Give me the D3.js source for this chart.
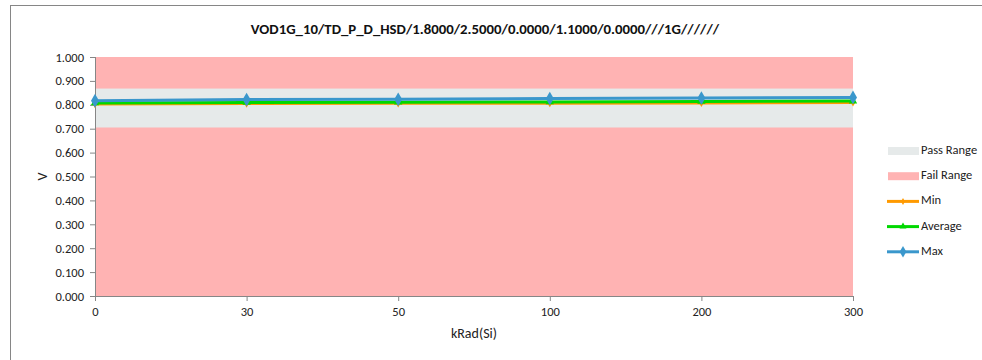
<!DOCTYPE html>
<html>
<head>
<meta charset="utf-8">
<script src="https://cdn.jsdelivr.net/npm/d3@7"></script>
<style>
  body { margin: 0; background: #fff; }
  svg { display: block; font-family: Carlito, Calibri, Lato, "Open Sans", sans-serif; }
</style>
</head>
<body>
<svg id="chart" width="982" height="360"></svg>
<script>
const title = "VOD1G_10/TD_P_D_HSD/1.8000/2.5000/0.0000/1.1000/0.0000///1G//////";
const categories = ["0", "30", "50", "100", "200", "300"];
const minValues = [0.803, 0.805, 0.806, 0.807, 0.808, 0.810];
const avgValues = [0.808, 0.810, 0.811, 0.812, 0.814, 0.816];
const maxValues = [0.817, 0.822, 0.823, 0.826, 0.828, 0.831];
const passRange = [0.705, 0.868];
const failRange = [0.0, 1.0];
const yTicks = [0, 0.1, 0.2, 0.3, 0.4, 0.5, 0.6, 0.7, 0.8, 0.9, 1.0];
const xLabel = "kRad(Si)";
const yLabel = "V";

const svg = d3.select("#chart");
const m = { left: 95, right: 853, top: 57, bottom: 296 };
const FONT = "Carlito, Calibri, Lato, 'Open Sans', sans-serif";

// outer border (chart area frame, cropped at right/bottom)
svg.append("rect").attr("x", 10.5).attr("y", 5.5).attr("width", 1000).attr("height", 400)
  .attr("fill", "#fff").attr("stroke", "#868686").attr("stroke-width", 1);

const x = d3.scalePoint().domain(categories).range([m.left, m.right]);
const y = d3.scaleLinear().domain([0, 1]).range([m.bottom, m.top]);

// fail range band
svg.append("rect").attr("x", m.left).attr("width", m.right - m.left)
  .attr("y", y(failRange[1])).attr("height", y(failRange[0]) - y(failRange[1]))
  .attr("fill", "#ffb3b3");
// pass range band
svg.append("rect").attr("x", m.left).attr("width", m.right - m.left)
  .attr("y", y(passRange[1])).attr("height", y(passRange[0]) - y(passRange[1]))
  .attr("fill", "#e6eaea");

// axes
const yAxis = d3.axisLeft(y).tickValues(yTicks).tickFormat(d3.format(".3f")).tickSize(5).tickPadding(6);
const gy = svg.append("g").attr("transform", `translate(${m.left},0)`).call(yAxis);
const xAxis = d3.axisBottom(x).tickSize(5).tickPadding(6);
const gx = svg.append("g").attr("transform", `translate(0,${m.bottom})`).call(xAxis);
[gy, gx].forEach(g => {
  g.selectAll("path, line").attr("stroke", "#868686");
  g.selectAll("text").attr("fill", "#222").style("font-size", "12.5px").style("font-family", FONT);
});
gx.select(".domain").attr("d", `M${m.left},0.5H${m.right}`);
gy.select(".domain").attr("d", `M0.5,${m.top}V${m.bottom}`);

// series
const series = [
  { name: "Min", values: minValues, color: "#ff9a00", marker: d3.symbolDiamond, size: 20 },
  { name: "Average", values: avgValues, color: "#00d800", marker: d3.symbolTriangle, size: 30 },
  { name: "Max", values: maxValues, color: "#3a97cc", marker: d3.symbolDiamond, size: 55 }
];
const line = d3.line().x((d, i) => x(categories[i])).y(d => y(d));
series.forEach(s => {
  svg.append("path").datum(s.values).attr("d", line).attr("fill", "none")
    .attr("stroke", s.color).attr("stroke-width", 3);
  svg.selectAll(null).data(s.values).enter().append("path")
    .attr("d", d3.symbol().type(s.marker).size(s.size))
    .attr("transform", (d, i) => `translate(${x(categories[i])},${y(d)})`)
    .attr("fill", s.color);
});

// title
svg.append("text").attr("x", 485).attr("y", 34).attr("text-anchor", "middle")
  .style("font-size", "14.8px").style("font-weight", "bold").attr("fill", "#111").text(title);
// axis labels
svg.append("text").attr("x", (m.left + m.right) / 2).attr("y", 338).attr("text-anchor", "middle")
  .style("font-size", "14px").attr("fill", "#222").text(xLabel);
svg.append("text").attr("transform", `translate(44,${y(0.5)}) rotate(-90)`).attr("text-anchor", "middle")
  .attr("dominant-baseline", "middle").style("font-size", "14px").attr("fill", "#222").text(yLabel);

// legend
const legend = [
  { name: "Pass Range", type: "rect", color: "#e6eaea" },
  { name: "Fail Range", type: "rect", color: "#ffb3b3" },
  ...series.map(s => ({ name: s.name, type: "line", color: s.color, marker: s.marker, size: s.size }))
];
const lg = svg.append("g");
legend.forEach((d, i) => {
  const cy = 151 + i * 25.2;
  if (d.type === "rect") {
    lg.append("rect").attr("x", 888).attr("y", cy - 4).attr("width", 31).attr("height", 8).attr("fill", d.color);
  } else {
    lg.append("line").attr("x1", 887).attr("x2", 919).attr("y1", cy).attr("y2", cy)
      .attr("stroke", d.color).attr("stroke-width", 3);
    lg.append("path").attr("d", d3.symbol().type(d.marker).size(d.size * 0.7)())
      .attr("transform", `translate(903,${cy})`).attr("fill", d.color);
  }
  lg.append("text").attr("x", 921).attr("y", cy).attr("dominant-baseline", "middle")
    .style("font-size", "12.5px").attr("fill", "#222").text(d.name);
});
</script>
</body>
</html>
